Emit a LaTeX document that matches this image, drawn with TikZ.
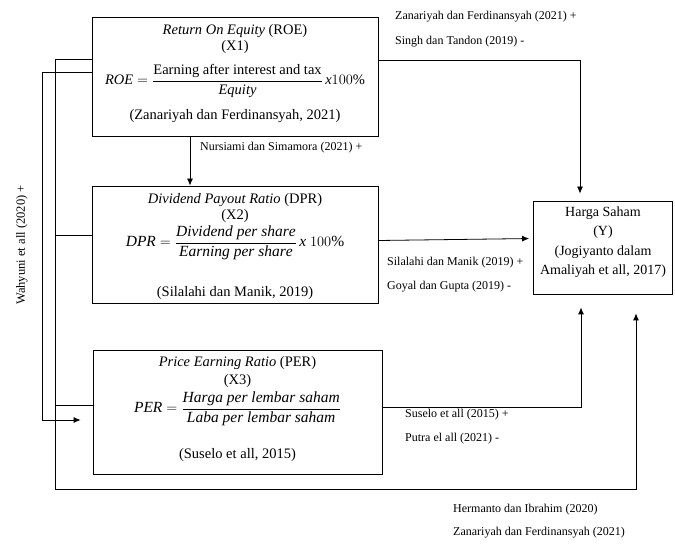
\documentclass[tikz,border=0pt]{standalone}
\usepackage{amsmath}
\usepackage{fontspec}
\setmainfont{Liberation Serif}
\usetikzlibrary{arrows.meta}
\begin{document}
\begin{tikzpicture}[x=1pt,y=-1pt,
  box/.style={draw, line width=0.8pt, inner sep=0pt},
  boxtxt/.style={font=\fontsize{14.5}{16}\selectfont, inner sep=0pt, anchor=center},
  ytxt/.style={font=\fontsize{14}{16}\selectfont, inner sep=0pt, anchor=center},
  eqtxt/.style={font=\fontsize{15.5}{17}\selectfont, inner sep=0pt, anchor=center},
  lbl/.style={font=\fontsize{12}{14}\selectfont, inner sep=0pt, anchor=west},
  conn/.style={line width=0.8pt},
  arr/.style={conn, -{Latex[length=7pt,width=6pt]}}]
\useasboundingbox (0,0) rectangle (675,545);
% boxes
\node[box, minimum width=286pt, minimum height=119pt] (roe) at (235,76.5) {};
\node[box, minimum width=286pt, minimum height=117pt] (dpr) at (235,244.5) {};
\node[box, minimum width=289pt, minimum height=124pt] (per) at (237.5,412) {};
\node[box, minimum width=139pt, minimum height=93pt] (y) at (603,247.5) {};
% ROE text
\node[boxtxt] (roe1) at (235,31) {\textit{Return On Equity} (ROE)};
\node[boxtxt] (roe2) at (235,47) {(X1)};
\node[boxtxt] (roe3) at (235,81) {$\mathit{ROE}=\dfrac{\text{Earning after interest and tax}}{\mathit{Equity}}\,\mathit{x}100\%$};
\node[boxtxt] (roe4) at (235,116) {(Zanariyah dan Ferdinansyah, 2021)};
% DPR text
\node[boxtxt] (dpr1) at (235,200) {\textit{Dividend Payout Ratio} (DPR)};
\node[boxtxt] (dpr2) at (235,216) {(X2)};
\node[eqtxt] (dpr3) at (235,243) {$\mathit{DPR}=\dfrac{\mathit{Dividend\ per\ share}}{\mathit{Earning\ per\ share}}\,\mathit{x}\ 100\%$};
\node[boxtxt] (dpr4) at (235,293) {(Silalahi dan Manik, 2019)};
% PER text
\node[boxtxt] (per1) at (237.5,363) {\textit{Price Earning Ratio} (PER)};
\node[boxtxt] (per2) at (237.5,381) {(X3)};
\node[eqtxt] (per3) at (237.5,409) {$\mathit{PER}=\dfrac{\mathit{Harga\ per\ lembar\ saham}}{\mathit{Laba\ per\ lembar\ saham}}$};
\node[boxtxt] (per4) at (237.5,455) {(Suselo et all, 2015)};
% Y text
\node[ytxt] (y1) at (603,213) {Harga Saham};
\node[ytxt] (y2) at (603,232) {(Y)};
\node[ytxt] (y3) at (603,252) {(Jogiyanto dalam};
\node[ytxt] (y4) at (603,271) {Amaliyah et all, 2017)};
% labels
\node[lbl] (l1) at (395,17) {Zanariyah dan Ferdinansyah (2021) +};
\node[lbl] (l2) at (395,42) {Singh dan Tandon (2019) -};
\node[lbl] (l3) at (200,148) {Nursiami dan Simamora (2021) +};
\node[lbl] (l4) at (387,263) {Silalahi dan Manik (2019) +};
\node[lbl] (l5) at (387,287) {Goyal dan Gupta (2019) -};
\node[lbl] (l6) at (405,415) {Suselo et all (2015) +};
\node[lbl] (l7) at (405,439) {Putra el all (2021) -};
\node[lbl] (l8) at (453,510) {Hermanto dan Ibrahim (2020)};
\node[lbl] (l9) at (453,533) {Zanariyah dan Ferdinansyah (2021)};
\node[lbl, anchor=center, rotate=90, font=\fontsize{12.5}{14}\selectfont] (l10) at (22,245) {Wahyuni et all (2020) +};
% coordinates
\coordinate (busA) at (55,489);
\coordinate (busB) at (42,0);
\coordinate (dprL) at ([yshift=8.8pt]dpr.west);
\coordinate (perL) at ([yshift=6.3pt]per.west);
\coordinate (roeB) at ([yshift=4.2pt]roe.west);
\coordinate (perB) at ([yshift=-8pt]per.west);
% connectors
\draw[arr, shorten >=7pt] ([yshift=16.5pt]roe.east) -| ([xshift=-23pt]y.north);
\draw[arr] ([xshift=-45pt]roe.south) -- ([xshift=-45pt]dpr.north);
\draw[arr, shorten >=4pt] ([yshift=4pt]dpr.east) -- ([yshift=9pt]y.west);
\draw[arr, shorten >=13pt] ([yshift=5pt]per.east) -| ([xshift=-22pt]y.south);
\draw[arr, shorten >=19pt] ([yshift=17pt]roe.west) -| (busA) -| ([xshift=33pt]y.south);
\draw[conn] (dprL) -- (busA |- dprL);
\draw[conn] (perL) -- (busA |- perL);
\draw[arr, shorten >=12pt] (roeB) -- (busB |- roeB) -- (busB |- perB) -- (perB);
\end{tikzpicture}
\end{document}
